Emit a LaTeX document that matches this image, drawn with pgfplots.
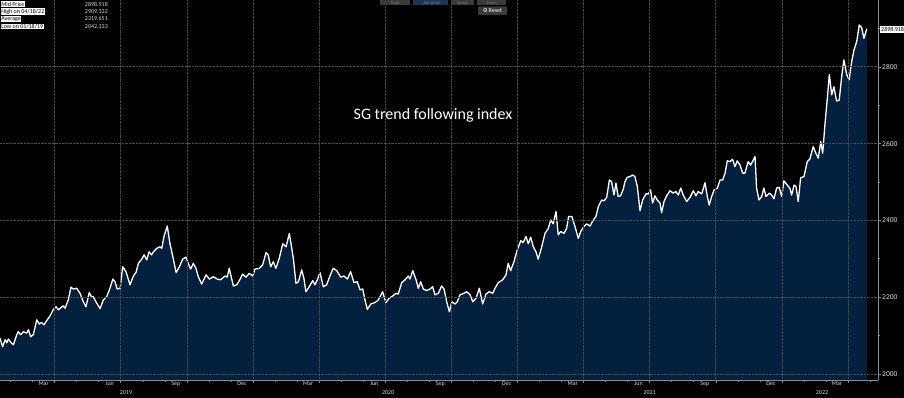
\documentclass[border=0pt]{standalone}
\usepackage{fontspec}
\setmainfont{Carlito}
\newfontfamily\djv{DejaVu Sans}
\usepackage{pgfplots}
\usepackage{pgfplotstable}
\pgfplotsset{compat=1.18}
\definecolor{navy}{HTML}{03203F}
\definecolor{gridc}{HTML}{4A4A4A}
\definecolor{axc}{HTML}{8C8C8C}
\definecolor{tickc}{HTML}{D8D8D8}
\definecolor{btn}{HTML}{3A3A3A}
\definecolor{btnblue}{HTML}{1E3650}

\pgfplotstableread{
m v
0.52 2093
0.64 2071
0.75 2089
0.83 2081
0.90 2091
1.01 2082
1.13 2076
1.28 2102
1.35 2110
1.46 2102
1.58 2110
1.73 2106
1.81 2115
1.91 2097
2.03 2102
2.19 2141
2.30 2130
2.41 2134
2.52 2128
2.64 2139
2.79 2151
2.94 2168
3.06 2175
3.17 2167
3.32 2174
3.39 2177
3.47 2171
3.62 2193
3.74 2226
3.85 2221
4.00 2223
4.15 2210
4.30 2188
4.42 2175
4.57 2212
4.68 2200
4.75 2201
4.91 2184
5.06 2170
5.21 2193
5.36 2201
5.51 2223
5.64 2247
5.74 2240
5.84 2221
5.97 2223
6.09 2279
6.24 2266
6.42 2232
6.57 2255
6.69 2264
6.80 2288
6.95 2299
7.06 2310
7.18 2297
7.28 2318
7.40 2310
7.48 2318
7.63 2327
7.78 2331
7.86 2327
7.96 2358
8.11 2385
8.23 2340
8.38 2301
8.51 2264
8.66 2279
8.81 2299
8.96 2304
9.06 2288
9.17 2273
9.29 2288
9.41 2275
9.52 2253
9.67 2234
9.87 2258
10.02 2247
10.20 2253
10.38 2247
10.53 2245
10.73 2255
10.83 2252
10.92 2275
10.99 2258
11.11 2229
11.26 2232
11.38 2243
11.53 2260
11.68 2252
11.83 2262
11.99 2255
12.09 2273
12.29 2275
12.44 2284
12.59 2316
12.69 2310
12.80 2279
12.92 2292
13.04 2275
13.19 2301
13.35 2339
13.50 2331
13.65 2366
13.83 2301
13.95 2236
14.06 2240
14.21 2271
14.31 2249
14.40 2214
14.55 2227
14.71 2243
14.81 2232
14.92 2245
15.04 2264
15.19 2227
15.34 2232
15.49 2255
15.64 2275
15.80 2269
15.98 2252
16.13 2255
16.28 2247
16.43 2266
16.58 2238
16.73 2240
16.86 2219
16.98 2221
17.08 2193
17.19 2168
17.34 2182
17.54 2186
17.69 2193
17.88 2214
18.03 2186
18.18 2197
18.34 2203
18.49 2210
18.59 2208
18.75 2238
18.90 2245
19.05 2255
19.12 2247
19.25 2269
19.40 2245
19.50 2223
19.61 2240
19.73 2221
19.88 2217
20.03 2221
20.15 2227
20.26 2206
20.41 2210
20.56 2229
20.67 2221
20.79 2188
20.91 2162
21.02 2188
21.17 2182
21.27 2188
21.39 2206
21.57 2210
21.70 2214
21.85 2206
21.97 2188
22.12 2197
22.27 2223
22.42 2182
22.57 2208
22.72 2214
22.88 2210
22.98 2223
23.13 2238
23.33 2245
23.48 2258
23.58 2288
23.69 2269
23.84 2292
23.99 2323
24.15 2347
24.26 2342
24.39 2358
24.49 2339
24.60 2356
24.72 2331
24.84 2318
24.94 2299
25.10 2331
25.25 2366
25.40 2379
25.51 2401
25.62 2391
25.75 2423
25.85 2362
25.96 2371
26.11 2366
26.23 2379
26.32 2410
26.47 2410
26.61 2384
26.76 2353
26.87 2371
27.02 2384
27.14 2391
27.29 2385
27.43 2400
27.56 2410
27.67 2436
27.82 2453
27.93 2451
28.05 2460
28.17 2505
28.27 2501
28.38 2466
28.47 2497
28.57 2462
28.68 2464
28.80 2481
28.88 2501
28.98 2512
29.10 2514
29.23 2518
29.33 2514
29.44 2488
29.56 2425
29.68 2453
29.83 2469
29.94 2469
30.04 2479
30.13 2445
30.24 2464
30.34 2453
30.47 2445
30.54 2420
30.65 2449
30.77 2464
30.92 2477
31.07 2471
31.19 2475
31.30 2466
31.41 2484
31.52 2466
31.68 2449
31.83 2460
31.98 2477
32.10 2464
32.20 2475
32.36 2469
32.51 2498
32.61 2464
32.70 2440
32.81 2462
32.92 2479
33.07 2484
33.19 2505
33.31 2505
33.42 2523
33.52 2555
33.64 2553
33.76 2559
33.87 2540
33.97 2555
34.10 2544
34.22 2523
34.32 2523
34.47 2553
34.58 2544
34.70 2557
34.78 2566
34.85 2484
34.96 2453
35.08 2462
35.18 2484
35.28 2462
35.43 2471
35.53 2466
35.64 2456
35.76 2484
35.88 2486
35.99 2462
36.09 2503
36.24 2492
36.36 2484
36.44 2466
36.55 2492
36.64 2488
36.74 2449
36.85 2511
37.00 2514
37.15 2553
37.27 2560
37.42 2592
37.54 2575
37.65 2562
37.76 2605
37.85 2575
37.95 2648
38.06 2718
38.15 2780
38.26 2727
38.36 2748
38.48 2711
38.60 2713
38.71 2774
38.81 2818
38.94 2780
39.05 2766
39.16 2812
39.27 2844
39.39 2865
39.51 2909
39.62 2902
39.72 2874
39.85 2898.918
}\sgdata

\begin{document}
\begin{tikzpicture}
\fill[black] (0pt,0pt) rectangle (904pt,398pt);
\useasboundingbox (0pt,0pt) rectangle (904pt,398pt);
\begin{axis}[
  at={(0pt,18pt)}, anchor=south west,
  scale only axis, width=878pt, height=380pt,
  xmin=0.52, xmax=40.36, ymin=1984, ymax=2974,
  clip mode=individual,
  axis x line=bottom, axis y line=right,
  axis line style={axc, line width=0.8pt, -},
  axis on top,
  xtick={3,6,...,39}, xticklabels={},
  minor xtick={1,2,...,40},
  ytick={2000,2200,...,2800},
  minor ytick={2100,2300,...,2900},
  grid=major,
  major grid style={gridc, densely dotted, line width=0.7pt},
  tick style={axc, line width=0.6pt},
  major tick length=3pt, minor tick length=2pt,
  tick align=outside,
  yticklabel style={tickc, font=\fontsize{7.5}{8}\selectfont, inner sep=1pt},
  /pgf/number format/assume math mode=true,
  /pgf/number format/1000 sep={},
  extra x ticks={2.5,5.5,8.5,11.5,14.5,17.5,20.5,23.5,26.5,29.5,32.5,35.5,38.5},
  extra x tick labels={Mar,Jun,Sep,Dec,Mar,Jun,Sep,Dec,Mar,Jun,Sep,Dec,Mar},
  extra x tick style={grid=none, major tick length=0pt,
    xticklabel style={tickc, font=\fontsize{6}{6}\selectfont, inner sep=0pt, yshift=-1.5pt}},
]
\addplot[draw=none, fill=navy] table[x=m, y=v] {\sgdata} \closedcycle;
\addplot[white, line width=1.3pt, line join=round] table[x=m, y=v] {\sgdata};

\node[text=tickc, font=\fontsize{6}{6}\selectfont] at (axis cs:6.24,1984) [yshift=-12.5pt] {2019};
\node[text=tickc, font=\fontsize{6}{6}\selectfont] at (axis cs:18.13,1984) [yshift=-12.5pt] {2020};
\node[text=tickc, font=\fontsize{6}{6}\selectfont] at (axis cs:30.0,1984) [yshift=-12.5pt] {2021};
\node[text=tickc, font=\fontsize{6}{6}\selectfont] at (axis cs:37.82,1984) [yshift=-12.5pt] {2022};
\draw[axc, line width=0.6pt] (axis cs:12,1984) ++(0,-8pt) -- ++(0,-9pt);
\draw[axc, line width=0.6pt] (axis cs:24,1984) ++(0,-8pt) -- ++(0,-9pt);
\draw[axc, line width=0.6pt] (axis cs:36,1984) ++(0,-8pt) -- ++(0,-9pt);
\end{axis}

% title
\node[text=white, font=\fontsize{16}{19}\selectfont] at (433pt,283pt) {SG trend following index};

% last price label
\node[anchor=west, fill=white, text=black, inner sep=1pt, font=\fontsize{6}{6}\selectfont] at (880pt,368.5pt) {2898.918};

% top-left legend
\tikzset{leglab/.style={anchor=west, fill=white, text=black, inner sep=0.6pt, font=\fontsize{6}{6.5}\selectfont},
         legval/.style={anchor=east, text=tickc, inner sep=0pt, font=\fontsize{6}{6.5}\selectfont}}
\node[leglab] at (0.5pt,394pt) {Mid Price};
\node[legval] at (108pt,394pt) {2898.918};
\node[leglab] at (0.5pt,386.5pt) {High on 04/18/22};
\node[legval] at (108pt,386.5pt) {2909.332};
\node[leglab] at (0.5pt,379pt) {Average};
\node[legval] at (108pt,379pt) {2319.651};
\node[leglab] at (0.5pt,371.5pt) {Low on 01/18/19};
\node[legval] at (108pt,371.5pt) {2042.333};

% top buttons
\fill[btnblue] (413pt,392.5pt) rectangle (448pt,398pt);
\fill[btn] (380pt,392.5pt) rectangle (410pt,398pt);
\fill[btn] (451pt,392.5pt) rectangle (474pt,398pt);
\fill[btn] (477pt,392.5pt) rectangle (506pt,398pt);
\node[text=gray, font=\fontsize{4.5}{5}\selectfont, inner sep=0pt] at (395pt,395.2pt) {Track};
\node[text=gray, font=\fontsize{4.5}{5}\selectfont, inner sep=0pt] at (432pt,395.2pt) {Annotate};
\node[text=gray, font=\fontsize{4.5}{5}\selectfont, inner sep=0pt] at (462.5pt,395.2pt) {News};
\node[text=gray, font=\fontsize{4.5}{5}\selectfont, inner sep=0pt] at (491.5pt,395.2pt) {Zoom};
% reset button
\fill[btn, rounded corners=1pt] (478pt,383pt) rectangle (507pt,391.5pt);
\node[text=white, font=\fontsize{6}{6}\selectfont, inner sep=0pt] at (492.5pt,387.2pt) {{\djv\fontsize{5.5}{6}\selectfont ⚙}\,Reset};
\end{tikzpicture}
\end{document}
